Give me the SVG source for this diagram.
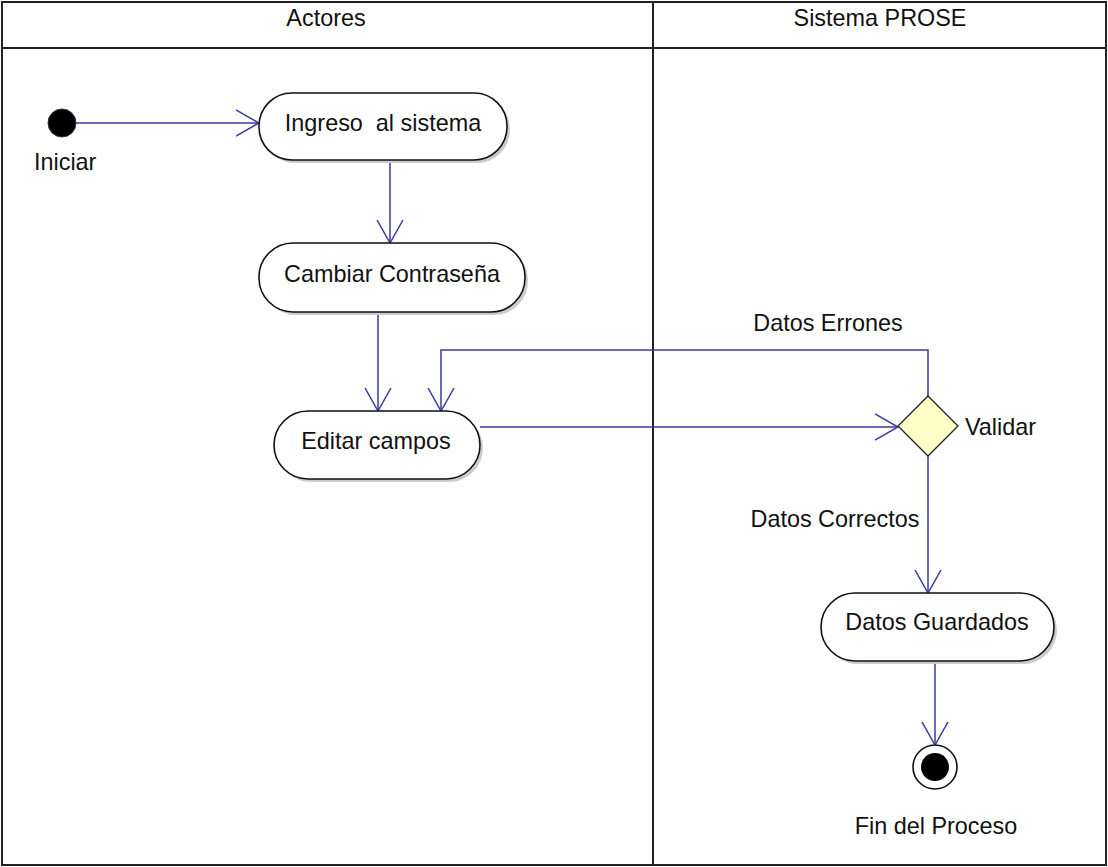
<svg xmlns="http://www.w3.org/2000/svg" width="1108" height="867" viewBox="0 0 1108 867">
<style>
text{font-family:"Liberation Sans",Arial,sans-serif;font-size:23.4px;fill:#111;}
.c{text-anchor:middle;}
.node{fill:#fff;stroke:#111;stroke-width:1.6;}
.shadow{fill:#ccc;stroke:none;}
.edge{fill:none;stroke:#3a3aa0;stroke-width:1.5;}
.lane{fill:none;stroke:#222;stroke-width:2;}
</style>
<defs>
<marker id="arr" viewBox="0 0 24 28" refX="23" refY="14" markerWidth="24" markerHeight="28" markerUnits="userSpaceOnUse" orient="auto">
<path d="M0,1 L23,14 L0,27" fill="none" stroke="#3a3aa0" stroke-width="1.5"/>
</marker>
</defs>
<rect x="0" y="0" width="1108" height="867" fill="#fff"/>
<g id="lanes">
<rect class="lane" x="2" y="2" width="1104" height="863"/>
<line class="lane" x1="2" y1="48" x2="1106" y2="48"/>
<line class="lane" x1="653" y1="2" x2="653" y2="865"/>
<text class="c" x="326" y="26">Actores</text>
<text class="c" x="880" y="26">Sistema PROSE</text>
</g>
<g id="connectors">
<line class="edge" x1="76" y1="123" x2="259" y2="123" marker-end="url(#arr)"/>
<line class="edge" x1="390" y1="160" x2="390" y2="243" marker-end="url(#arr)"/>
<line class="edge" x1="378" y1="312" x2="378" y2="411" marker-end="url(#arr)"/>
<line class="edge" x1="480" y1="427" x2="898" y2="427" marker-end="url(#arr)"/>
<polyline class="edge" points="928,397 928,350 441,350 441,411" marker-end="url(#arr)"/>
<line class="edge" x1="928" y1="456" x2="928" y2="593" marker-end="url(#arr)"/>
<line class="edge" x1="935" y1="661" x2="935" y2="745" marker-end="url(#arr)"/>
<text class="c" x="828" y="331">Datos Errones</text>
<text class="c" x="835" y="527">Datos Correctos</text>
</g>
<g id="start">
<circle cx="62" cy="123" r="14" fill="#000" stroke="#333" stroke-width="1"/>
<text x="34" y="170">Iniciar</text>
</g>
<g id="ingreso">
<rect class="shadow" x="262" y="96" width="248" height="67" rx="33"/>
<rect class="node" x="259" y="93" width="248" height="67" rx="33"/>
<text class="c" x="383" y="131" xml:space="preserve">Ingreso  al sistema</text>
</g>
<g id="cambiar">
<rect class="shadow" x="262" y="246" width="266" height="69" rx="34"/>
<rect class="node" x="259" y="243" width="266" height="69" rx="34"/>
<text class="c" x="392" y="282">Cambiar Contraseña</text>
</g>
<g id="editar">
<rect class="shadow" x="277" y="414" width="206" height="68" rx="34"/>
<rect class="node" x="274" y="411" width="206" height="68" rx="34"/>
<text class="c" x="376" y="449">Editar campos</text>
</g>
<g id="validar">
<polygon points="928,396 958,426 928,456 898,426" fill="#ffffc8" stroke="#222" stroke-width="1.3"/>
<text x="965" y="435">Validar</text>
</g>
<g id="guardados">
<rect class="shadow" x="824" y="596" width="233" height="68" rx="34"/>
<rect class="node" x="821" y="593" width="233" height="68" rx="34"/>
<text class="c" x="937" y="630">Datos Guardados</text>
</g>
<g id="fin">
<circle cx="935" cy="767" r="22" fill="#fff" stroke="#111" stroke-width="1.6"/>
<circle cx="935" cy="767" r="14" fill="#000"/>
<text class="c" x="936" y="834">Fin del Proceso</text>
</g>
</svg>
